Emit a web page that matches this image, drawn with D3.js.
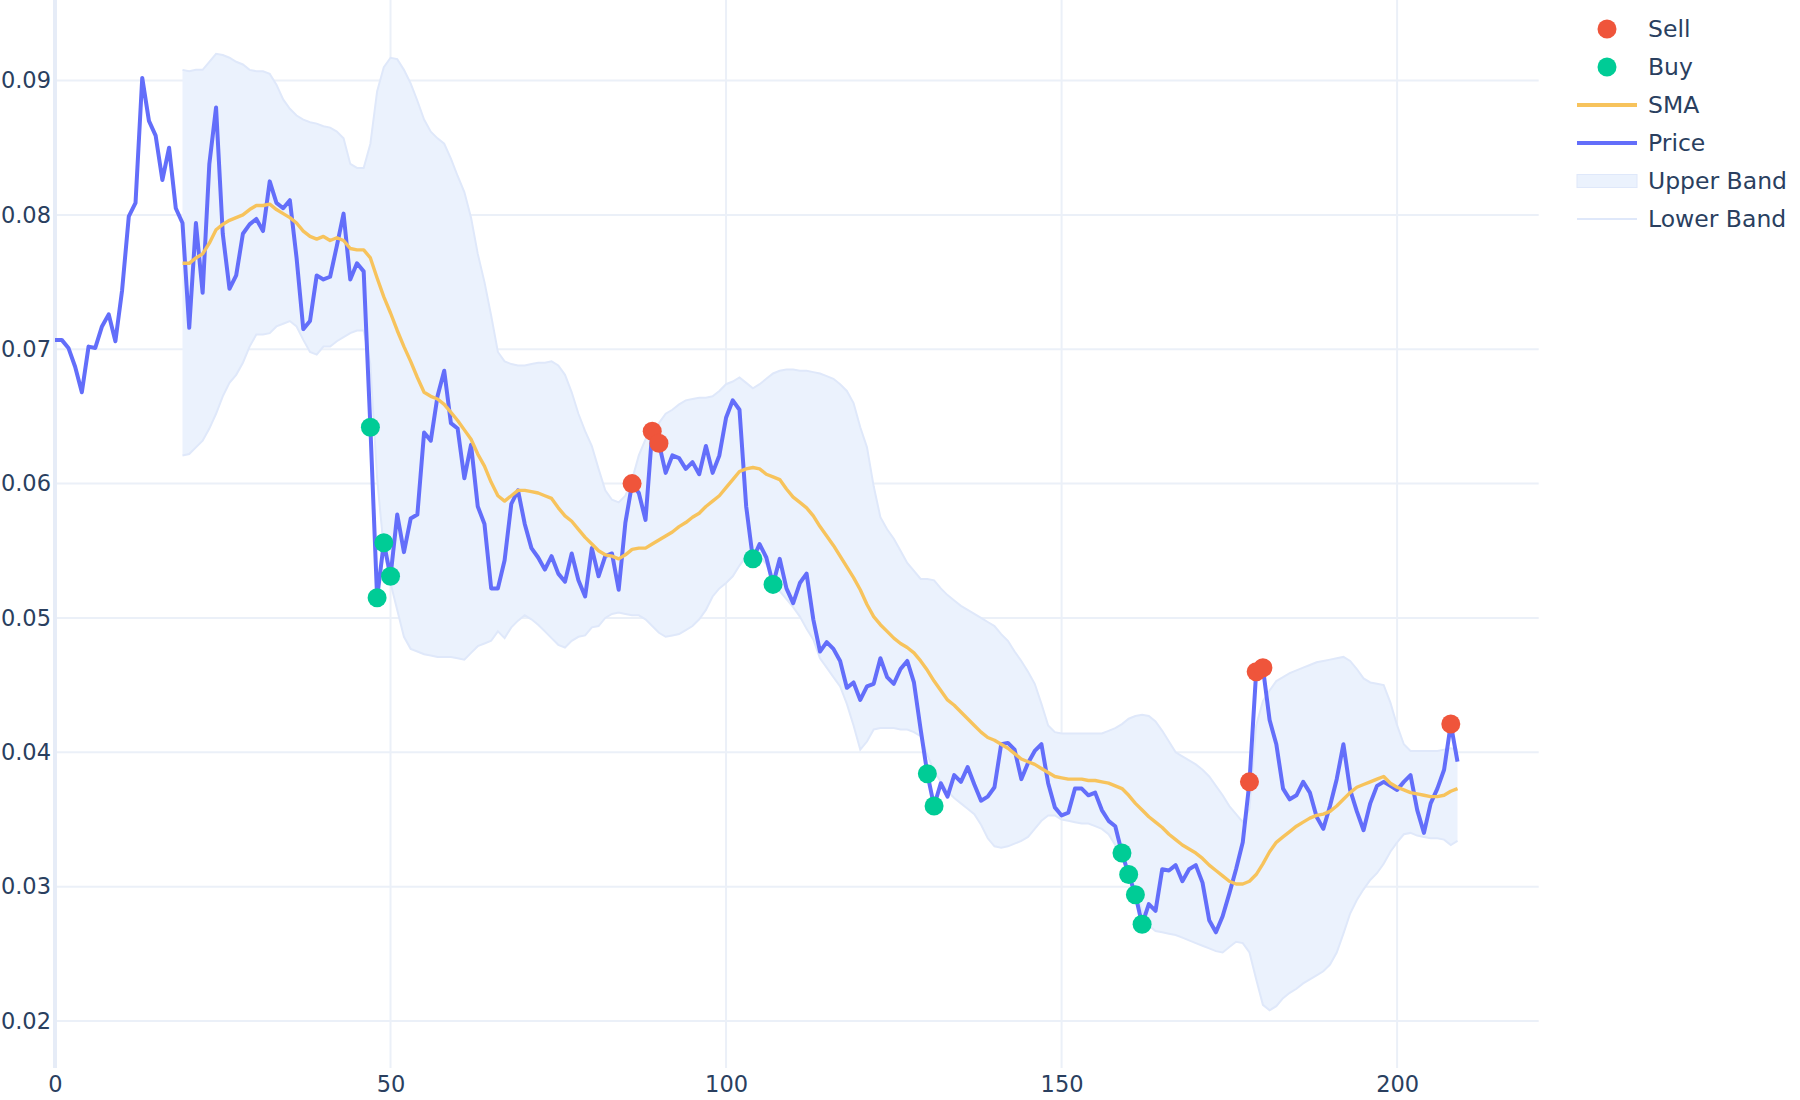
<!DOCTYPE html>
<html lang="en">
<head>
<meta charset="UTF-8">
<title>Price, SMA and Bollinger Bands</title>
<script src="https://d3js.org/d3.v7.min.js"></script>
<style>
  body { margin: 0; background: #fff; font-family: "DejaVu Sans", sans-serif; }
  .tick text { fill: #2a3f5f; font-size: 22.5px; font-family: "DejaVu Sans", sans-serif; }
  .legend text { fill: #2a3f5f; font-size: 23.5px; font-family: "DejaVu Sans", sans-serif; }
</style>
</head>
<body>
<svg width="1800" height="1100"></svg>
<script>
// price per day, day 0 .. 209
const price = [
  0.0707, 0.0707, 0.0701, 0.0687, 0.0668, 0.0702, 0.0701, 0.0717, 0.0726, 0.0706,
  0.0744, 0.0799, 0.0809, 0.0902, 0.0870, 0.0859, 0.0826, 0.0850, 0.0805, 0.0794,
  0.0716, 0.0794, 0.0742, 0.0838, 0.0880, 0.0786, 0.0745, 0.0755, 0.0786, 0.0793,
  0.0797, 0.0788, 0.0825, 0.0809, 0.0805, 0.0811, 0.0768, 0.0715, 0.0721, 0.0755,
  0.0752, 0.0754, 0.0777, 0.0801, 0.0752, 0.0764, 0.0758, 0.0642, 0.0515, 0.0556,
  0.0531, 0.0577, 0.0549, 0.0574, 0.0577, 0.0638, 0.0632, 0.0665, 0.0684, 0.0645,
  0.0641, 0.0604, 0.0629, 0.0583, 0.0570, 0.0522, 0.0522, 0.0543, 0.0585, 0.0595,
  0.0570, 0.0552, 0.0545, 0.0536, 0.0546, 0.0533, 0.0527, 0.0548, 0.0528, 0.0516,
  0.0552, 0.0531, 0.0546, 0.0548, 0.0521, 0.0571, 0.0600, 0.0593, 0.0573, 0.0639,
  0.0630, 0.0608, 0.0621, 0.0619, 0.0611, 0.0616, 0.0607, 0.0628, 0.0608, 0.0621,
  0.0649, 0.0662, 0.0655, 0.0583, 0.0544, 0.0555, 0.0545, 0.0525, 0.0544, 0.0522,
  0.0511, 0.0526, 0.0533, 0.0499, 0.0475, 0.0482, 0.0477, 0.0468, 0.0448, 0.0452,
  0.0439, 0.0449, 0.0451, 0.0470, 0.0456, 0.0451, 0.0462, 0.0468, 0.0452, 0.0417,
  0.0384, 0.0360, 0.0377, 0.0367, 0.0383, 0.0378, 0.0389, 0.0376, 0.0364, 0.0367,
  0.0374, 0.0406, 0.0407, 0.0402, 0.0380, 0.0392, 0.0401, 0.0406, 0.0377, 0.0359,
  0.0353, 0.0355, 0.0373, 0.0373, 0.0368, 0.0370, 0.0357, 0.0349, 0.0345, 0.0325,
  0.0309, 0.0294, 0.0272, 0.0287, 0.0282, 0.0313, 0.0312, 0.0316, 0.0304, 0.0313,
  0.0316, 0.0303, 0.0275, 0.0266, 0.0278, 0.0295, 0.0313, 0.0333, 0.0378, 0.0460,
  0.0463, 0.0424, 0.0406, 0.0373, 0.0365, 0.0368, 0.0378, 0.0370, 0.0352, 0.0343,
  0.0360, 0.0380, 0.0406, 0.0372, 0.0356, 0.0342, 0.0362, 0.0375, 0.0378, 0.0375,
  0.0372, 0.0378, 0.0383, 0.0357, 0.0340, 0.0362, 0.0373, 0.0387, 0.0421, 0.0393
];

// SMA and bands start at day 19
const bandStart = 19;

const sma = [
  0.0764, 0.0764, 0.0768, 0.0771, 0.0779, 0.0789, 0.0793, 0.0796, 0.0798, 0.0800,
  0.0804, 0.0807, 0.0807, 0.0808, 0.0804, 0.0801, 0.0798, 0.0794, 0.0788, 0.0784,
  0.0782, 0.0784, 0.0781, 0.0783, 0.0781, 0.0775, 0.0774, 0.0774, 0.0768, 0.0753,
  0.0739, 0.0727, 0.0714, 0.0702, 0.0691, 0.0679, 0.0668, 0.0665, 0.0663, 0.0659,
  0.0653, 0.0647, 0.0640, 0.0633, 0.0622, 0.0613, 0.0601, 0.0591, 0.0587, 0.0591,
  0.0595, 0.0595, 0.0594, 0.0593, 0.0591, 0.0589, 0.0582, 0.0576, 0.0572, 0.0566,
  0.0560, 0.0555, 0.0550, 0.0547, 0.0546, 0.0544, 0.0547, 0.0551, 0.0552, 0.0552,
  0.0555, 0.0558, 0.0561, 0.0564, 0.0568, 0.0571, 0.0575, 0.0578, 0.0583, 0.0587,
  0.0591, 0.0597, 0.0603, 0.0609, 0.0611, 0.0612, 0.0611, 0.0607, 0.0605, 0.0603,
  0.0596, 0.0590, 0.0586, 0.0582, 0.0576, 0.0568, 0.0561, 0.0554, 0.0546, 0.0538,
  0.0530, 0.0521, 0.0510, 0.0501, 0.0495, 0.0490, 0.0485, 0.0481, 0.0478, 0.0474,
  0.0468, 0.0461, 0.0453, 0.0446, 0.0439, 0.0435, 0.0430, 0.0425, 0.0420, 0.0415,
  0.0411, 0.0409, 0.0406, 0.0403, 0.0399, 0.0395, 0.0393, 0.0391, 0.0388, 0.0385,
  0.0382, 0.0381, 0.0380, 0.0380, 0.0380, 0.0379, 0.0379, 0.0378, 0.0377, 0.0375,
  0.0373, 0.0368, 0.0362, 0.0357, 0.0352, 0.0348, 0.0344, 0.0339, 0.0335, 0.0331,
  0.0328, 0.0325, 0.0321, 0.0316, 0.0312, 0.0308, 0.0304, 0.0302, 0.0302, 0.0304,
  0.0309, 0.0317, 0.0326, 0.0333, 0.0337, 0.0341, 0.0345, 0.0348, 0.0351, 0.0353,
  0.0354, 0.0356, 0.0360, 0.0365, 0.0370, 0.0374, 0.0376, 0.0378, 0.0380, 0.0382,
  0.0377, 0.0374, 0.0372, 0.0370, 0.0369, 0.0368, 0.0367, 0.0367, 0.0368, 0.0371,
  0.0373
];

const upperBand = [
  0.0908, 0.0907, 0.0908, 0.0908, 0.0914, 0.0920, 0.0919, 0.0917, 0.0914, 0.0912,
  0.0908, 0.0907, 0.0907, 0.0905, 0.0897, 0.0886, 0.0879, 0.0874, 0.0871, 0.0869,
  0.0868, 0.0866, 0.0865, 0.0862, 0.0857, 0.0838, 0.0835, 0.0835, 0.0853, 0.0892,
  0.0910, 0.0917, 0.0916, 0.0908, 0.0898, 0.0885, 0.0871, 0.0862, 0.0857, 0.0853,
  0.0842, 0.0829, 0.0817, 0.0798, 0.0771, 0.0750, 0.0725, 0.0698, 0.0691, 0.0689,
  0.0688, 0.0688, 0.0689, 0.0690, 0.0690, 0.0691, 0.0688, 0.0681, 0.0668, 0.0652,
  0.0639, 0.0628, 0.0611, 0.0595, 0.0588, 0.0586, 0.0591, 0.0603, 0.0621, 0.0633,
  0.0640, 0.0645, 0.0652, 0.0655, 0.0659, 0.0662, 0.0663, 0.0664, 0.0664, 0.0665,
  0.0669, 0.0674, 0.0676, 0.0679, 0.0675, 0.0671, 0.0674, 0.0678, 0.0682, 0.0684,
  0.0685, 0.0685, 0.0684, 0.0684, 0.0683, 0.0682, 0.0680, 0.0678, 0.0674, 0.0669,
  0.0660, 0.0642, 0.0627, 0.0598, 0.0575, 0.0566, 0.0559, 0.0550, 0.0541, 0.0535,
  0.0529, 0.0529, 0.0528, 0.0522, 0.0517, 0.0513, 0.0509, 0.0506, 0.0503, 0.0500,
  0.0497, 0.0494, 0.0488, 0.0483, 0.0475, 0.0468, 0.0460, 0.0451, 0.0436, 0.0420,
  0.0415, 0.0414, 0.0414, 0.0414, 0.0414, 0.0414, 0.0414, 0.0414, 0.0416, 0.0418,
  0.0421, 0.0425, 0.0427, 0.0428, 0.0427, 0.0423, 0.0416, 0.0408, 0.0400, 0.0397,
  0.0394, 0.0391, 0.0387, 0.0382, 0.0375, 0.0368, 0.0360, 0.0354, 0.0348, 0.0358,
  0.0420, 0.0438, 0.0446, 0.0453, 0.0456, 0.0459, 0.0461, 0.0463, 0.0465, 0.0467,
  0.0468, 0.0469, 0.0470, 0.0471, 0.0468, 0.0462, 0.0455, 0.0452, 0.0451, 0.0450,
  0.0437, 0.0420, 0.0406, 0.0401, 0.0401, 0.0401, 0.0401, 0.0401, 0.0402, 0.0403,
  0.0402
];

const lowerBand = [
  0.0621, 0.0622, 0.0627, 0.0632, 0.0641, 0.0652, 0.0665, 0.0675, 0.0681, 0.0690,
  0.0702, 0.0711, 0.0711, 0.0712, 0.0717, 0.0719, 0.0721, 0.0717, 0.0707, 0.0698,
  0.0696, 0.0702, 0.0702, 0.0706, 0.0709, 0.0712, 0.0714, 0.0714, 0.0689, 0.0604,
  0.0551, 0.0526, 0.0506, 0.0486, 0.0477, 0.0475, 0.0473, 0.0472, 0.0471, 0.0471,
  0.0471, 0.0470, 0.0469, 0.0474, 0.0479, 0.0481, 0.0483, 0.0490, 0.0485, 0.0493,
  0.0498, 0.0502, 0.0499, 0.0495, 0.0490, 0.0485, 0.0480, 0.0478, 0.0483, 0.0486,
  0.0487, 0.0493, 0.0494, 0.0500, 0.0503, 0.0504, 0.0503, 0.0502, 0.0502, 0.0499,
  0.0494, 0.0489, 0.0486, 0.0487, 0.0488, 0.0491, 0.0494, 0.0499, 0.0506, 0.0516,
  0.0522, 0.0526, 0.0531, 0.0539, 0.0546, 0.0550, 0.0546, 0.0540, 0.0530, 0.0520,
  0.0514, 0.0508, 0.0501, 0.0492, 0.0484, 0.0470, 0.0463, 0.0456, 0.0449, 0.0436,
  0.0420, 0.0402, 0.0408, 0.0417, 0.0418, 0.0418, 0.0418, 0.0417, 0.0417, 0.0415,
  0.0412, 0.0398, 0.0386, 0.0378, 0.0371, 0.0366, 0.0362, 0.0358, 0.0354, 0.0346,
  0.0336, 0.0330, 0.0329, 0.0330, 0.0332, 0.0334, 0.0337, 0.0343, 0.0349, 0.0353,
  0.0353, 0.0350, 0.0349, 0.0348, 0.0347, 0.0347, 0.0345, 0.0343, 0.0339, 0.0331,
  0.0322, 0.0311, 0.0298, 0.0282, 0.0271, 0.0267, 0.0266, 0.0265, 0.0264, 0.0262,
  0.0260, 0.0258, 0.0256, 0.0254, 0.0252, 0.0251, 0.0255, 0.0259, 0.0258, 0.0251,
  0.0231, 0.0212, 0.0208, 0.0211, 0.0217, 0.0221, 0.0224, 0.0228, 0.0231, 0.0234,
  0.0237, 0.0242, 0.0251, 0.0265, 0.0280, 0.0290, 0.0298, 0.0305, 0.0310, 0.0317,
  0.0326, 0.0333, 0.0339, 0.0340, 0.0338, 0.0337, 0.0336, 0.0336, 0.0335, 0.0331,
  0.0334
];

const sellDays = [86, 89, 90, 178, 179, 180, 208];
const sellPrices = [0.0600, 0.0639, 0.0630, 0.0378, 0.0460, 0.0463, 0.0421];
const buyDays = [47, 48, 49, 50, 104, 107, 130, 131, 159, 160, 161, 162];
const buyPrices = [0.0642, 0.0515, 0.0556, 0.0531, 0.0544, 0.0525, 0.0384, 0.0360, 0.0325, 0.0309, 0.0294, 0.0272];

const xTicks = [0, 50, 100, 150, 200];
const yTicks = [0.02, 0.03, 0.04, 0.05, 0.06, 0.07, 0.08, 0.09];
const legendNames = ["Sell", "Buy", "SMA", "Price", "Upper Band", "Lower Band"];

const colors = {
  price: "#636efa",
  sma: "#f7c35c",
  sell: "#ef553b",
  buy: "#00cc96",
  fill: "#ebf2fd",
  bandLine: "#dfe8fa",
  grid: "#ebf0f8"
};

const plot = { left: 55, right: 1538.7, top: 0, bottom: 1068 };

const svg = d3.select("svg");
svg.append("rect").attr("width", 1800).attr("height", 1100).attr("fill", "#fff");

const x = d3.scaleLinear().domain([0, 221.1]).range([plot.left, plot.right]);
const y = d3.scaleLinear().domain([0.0165, 0.0960]).range([plot.bottom, plot.top]);

// grid
svg.append("g")
  .selectAll("line")
  .data(yTicks)
  .join("line")
  .attr("x1", plot.left).attr("x2", plot.right)
  .attr("y1", d => y(d)).attr("y2", d => y(d))
  .attr("stroke", colors.grid).attr("stroke-width", 2);

svg.append("g")
  .selectAll("line")
  .data(xTicks.filter(d => d !== 0))
  .join("line")
  .attr("x1", d => x(d)).attr("x2", d => x(d))
  .attr("y1", plot.top).attr("y2", plot.bottom)
  .attr("stroke", colors.grid).attr("stroke-width", 2);

// zero line
svg.append("line")
  .attr("x1", x(0)).attr("x2", x(0))
  .attr("y1", plot.top).attr("y2", plot.bottom)
  .attr("stroke", "#e6ecf7").attr("stroke-width", 4);

// axes (labels only)
const xAxis = svg.append("g")
  .attr("transform", `translate(0,${plot.bottom})`)
  .call(d3.axisBottom(x).tickValues(xTicks).tickSize(0).tickPadding(8).tickFormat(d3.format("d")));
xAxis.select(".domain").remove();

const yAxis = svg.append("g")
  .attr("transform", `translate(${plot.left},0)`)
  .call(d3.axisLeft(y).tickValues(yTicks).tickSize(0).tickPadding(4).tickFormat(d3.format(".2f")));
yAxis.select(".domain").remove();

// bands
const bandRows = upperBand.map((u, k) => ({
  day: bandStart + k,
  upper: u,
  lower: lowerBand[k],
  sma: sma[k]
}));

svg.append("clipPath").attr("id", "plot-clip")
  .append("rect")
  .attr("x", plot.left).attr("y", plot.top)
  .attr("width", plot.right - plot.left).attr("height", plot.bottom - plot.top);

const chart = svg.append("g").attr("clip-path", "url(#plot-clip)");

chart.append("path")
  .datum(bandRows)
  .attr("fill", colors.fill)
  .attr("d", d3.area()
    .x(d => x(d.day))
    .y0(d => y(d.lower))
    .y1(d => y(d.upper)));

chart.append("path")
  .datum(bandRows)
  .attr("fill", "none")
  .attr("stroke", colors.bandLine)
  .attr("stroke-width", 2)
  .attr("d", d3.line().x(d => x(d.day)).y(d => y(d.lower)));

chart.append("path")
  .datum(bandRows)
  .attr("fill", "none")
  .attr("stroke", colors.bandLine)
  .attr("stroke-width", 2)
  .attr("d", d3.line().x(d => x(d.day)).y(d => y(d.upper)));

// price
chart.append("path")
  .datum(price)
  .attr("fill", "none")
  .attr("stroke", colors.price)
  .attr("stroke-width", 4)
  .attr("stroke-linejoin", "round")
  .attr("d", d3.line().x((d, i) => x(i)).y(d => y(d)));

// sma
chart.append("path")
  .datum(bandRows)
  .attr("fill", "none")
  .attr("stroke", colors.sma)
  .attr("stroke-width", 3.4)
  .attr("stroke-linejoin", "round")
  .attr("d", d3.line().x(d => x(d.day)).y(d => y(d.sma)));

// signals
chart.append("g")
  .selectAll("circle")
  .data(buyDays.map((d, k) => [d, buyPrices[k]]))
  .join("circle")
  .attr("cx", d => x(d[0])).attr("cy", d => y(d[1]))
  .attr("r", 9.5).attr("fill", colors.buy);

chart.append("g")
  .selectAll("circle")
  .data(sellDays.map((d, k) => [d, sellPrices[k]]))
  .join("circle")
  .attr("cx", d => x(d[0])).attr("cy", d => y(d[1]))
  .attr("r", 9.5).attr("fill", colors.sell);

// legend
const legend = svg.append("g").attr("class", "legend").attr("transform", "translate(1577,29)");
const rowGap = 38;
legendNames.forEach((name, k) => {
  const g = legend.append("g").attr("transform", `translate(0,${k * rowGap})`);
  if (name === "Sell" || name === "Buy") {
    g.append("circle").attr("cx", 30).attr("cy", 0).attr("r", 9.5)
      .attr("fill", name === "Sell" ? colors.sell : colors.buy);
  } else if (name === "SMA" || name === "Price") {
    g.append("line").attr("x1", 0).attr("x2", 60).attr("y1", 0).attr("y2", 0)
      .attr("stroke", name === "SMA" ? colors.sma : colors.price).attr("stroke-width", 4);
  } else if (name === "Upper Band") {
    g.append("rect").attr("x", 0).attr("y", -6.5).attr("width", 60).attr("height", 13)
      .attr("fill", colors.fill).attr("stroke", colors.bandLine).attr("stroke-width", 1);
  } else {
    g.append("line").attr("x1", 0).attr("x2", 60).attr("y1", 0).attr("y2", 0)
      .attr("stroke", colors.bandLine).attr("stroke-width", 2);
  }
  g.append("text").attr("x", 71).attr("y", 0).attr("dy", "0.35em").text(name);
});
</script>
</body>
</html>
